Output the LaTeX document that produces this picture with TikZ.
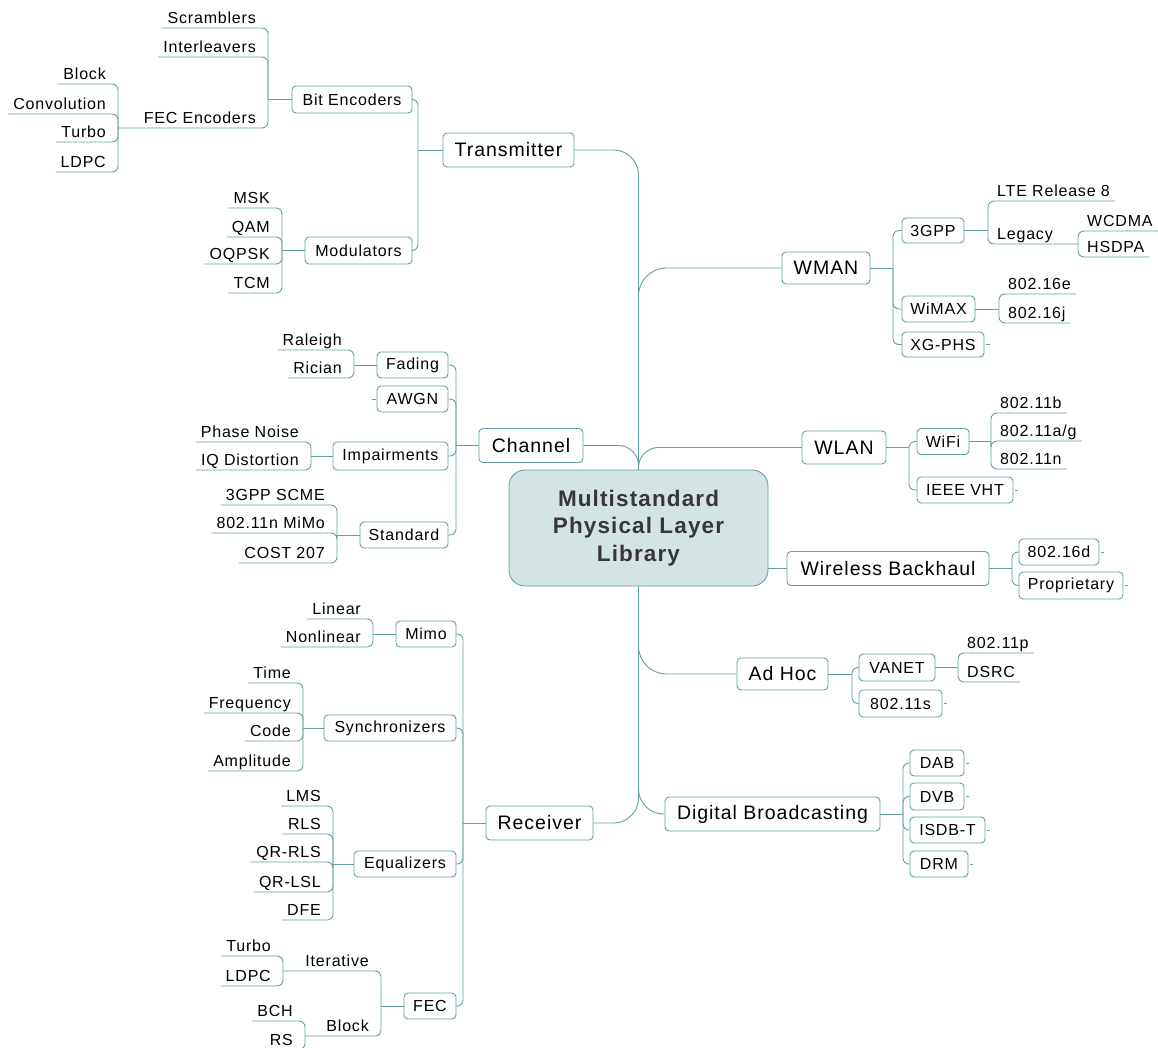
\documentclass[tikz,border=0pt]{standalone}
\usepackage{fontspec}
\setmainfont{Liberation Sans}[LetterSpace=5]
\usetikzlibrary{calc}
\definecolor{lc}{RGB}{100,160,160}
\definecolor{cfill}{RGB}{212,228,228}
\definecolor{tc}{RGB}{0,0,0}
\definecolor{ttl}{RGB}{55,55,55}

\tikzset{
  conn/.style={draw=lc, line width=0.9pt, rounded corners=6pt},
  bx/.style={draw=lc, line width=0.9pt, rounded corners=4pt, inner sep=0pt, text=tc, fill=white},
  mainbox/.style={bx, minimum height=34pt, font=\fontsize{19.5}{22}\selectfont},
  subbox/.style={bx, minimum height=26pt, font=\fontsize{16}{19}\selectfont},
  lleaf/.style={anchor=south east, inner xsep=5pt, inner ysep=1pt, text height=12pt,
                text depth=3pt, text=tc, font=\fontsize{16}{19}\selectfont},
  rleaf/.style={lleaf, anchor=south west},
}
% underlined leaf on the left / right of its bracket
\newcommand\Lleaf[5]{\node[lleaf] (#1) at (#2,#3) {#4};\draw[conn] (#5) |- (#1.south west);}
\newcommand\Rleaf[5]{\node[rleaf] (#1) at (#2,#3) {#4};\draw[conn] (#5) |- (#1.south east);}

\begin{document}
\begin{tikzpicture}[x=1pt,y=-1pt]
\useasboundingbox (0,0) rectangle (1158,1047);
\clip (0,0) rectangle (1158,1047);
\fill[white] (0,0) rectangle (1158,1047);

% ---------- central topic ----------
\node[draw=lc, line width=0.9pt, fill=cfill, rounded corners=16pt, minimum width=259pt,
      minimum height=116pt, align=center, text=ttl, inner sep=0pt,
      font=\fontsize{22.5}{27.5}\selectfont\bfseries] (title) at (638.5,528)
      {Multistandard\\Physical Layer\\Library};

% ---------- main branches ----------
\node[mainbox, minimum width=131pt] (tx)    at (508.5,150)   {Transmitter};
\node[mainbox, minimum width=104pt] (ch)    at (531,445.5)   {Channel};
\node[mainbox, minimum width=107pt] (rx)    at (539.5,823)   {Receiver};
\node[mainbox, minimum width=88pt, minimum height=32pt] (wman) at (826,268) {WMAN};
\node[mainbox, minimum width=84pt, minimum height=33pt] (wlan) at (844,447.5) {WLAN};
\node[mainbox, minimum width=202pt] (wb)    at (888,568.5)   {Wireless Backhaul};
\node[mainbox, minimum width=91pt, minimum height=32pt] (adhoc) at (782.5,674) {Ad Hoc};
\node[mainbox, minimum width=215pt] (db)    at (772.5,814)   {Digital Broadcasting};

\draw[conn, rounded corners=25pt] (tx.east) -| (title.north);
\draw[conn, rounded corners=20pt] (ch.east) -| (title.north);
\draw[conn, rounded corners=28pt] (title.north) |- (wman.west);
\draw[conn, rounded corners=20pt] (title.north) |- (wlan.west);
\draw[conn] (title.east |- wb.west) -- (wb.west);
\draw[conn, rounded corners=28pt] (title.south) |- (adhoc.west);
\draw[conn, rounded corners=25pt] (title.south) |- (db.west);
\draw[conn, rounded corners=25pt] (rx.east) -| (title.south);

% ---------- Transmitter ----------
\node[subbox, minimum width=120pt, minimum height=27pt] (bitenc) at (352,99.5) {Bit Encoders};
\node[subbox, minimum width=107pt, minimum height=27pt] (mod)    at (358.5,250.5) {Modulators};
\coordinate (jtx) at (418,150);
\draw[conn] (tx.west) -- (jtx);
\draw[conn] (jtx) |- (bitenc.east);
\draw[conn] (jtx) |- (mod.east);

\coordinate (jbe) at (268,99.5);
\draw[conn] (bitenc.west) -- (jbe);
\Lleaf{scr}{261}{28}{Scramblers}{jbe}
\Lleaf{intl}{261}{57}{Interleavers}{jbe}
\coordinate (jfe) at (118,128);
\node[lleaf] (fecenc) at (261,128) {FEC Encoders};
\draw[conn] (jbe) |- (fecenc.south west) -- (jfe);
\Lleaf{blkc}{111}{84}{Block}{jfe}
\Lleaf{conv}{111}{114}{Convolution}{jfe}
\Lleaf{turboc}{111}{142}{Turbo}{jfe}
\Lleaf{ldpcc}{111}{172}{LDPC}{jfe}

\coordinate (jmod) at (282,250.5);
\draw[conn] (mod.west) -- (jmod);
\Lleaf{msk}{275}{208}{MSK}{jmod}
\Lleaf{qam}{275}{237}{QAM}{jmod}
\Lleaf{oqpsk}{275}{264}{OQPSK}{jmod}
\Lleaf{tcm}{275}{293}{TCM}{jmod}

% ---------- Channel ----------
\node[subbox, minimum width=71pt]  (fading) at (412.5,365) {Fading};
\node[subbox, minimum width=71pt]  (awgn)   at (412.5,399) {AWGN};
\node[subbox, minimum width=115pt, minimum height=28pt] (imp) at (390.5,456) {Impairments};
\node[subbox, minimum width=88pt]  (std)    at (404,535)   {Standard};
\coordinate (jch) at (456,445.5);
\draw[conn] (ch.west) -- (jch);
\foreach \c in {fading,awgn,imp,std} \draw[conn] (jch) |- (\c.east);
\draw[conn] ([xshift=-1pt]awgn.west) -- ++(-4,0);

\coordinate (jfad) at (354,365);
\draw[conn] (fading.west) -- (jfad);
\Lleaf{ral}{347}{350}{Raleigh}{jfad}
\Lleaf{ric}{347}{378}{Rician}{jfad}

\coordinate (jimp) at (311,456);
\draw[conn] (imp.west) -- (jimp);
\Lleaf{phn}{304}{442}{Phase Noise}{jimp}
\Lleaf{iqd}{304}{470}{IQ Distortion}{jimp}

\coordinate (jstd) at (337,535);
\draw[conn] (std.west) -- (jstd);
\Lleaf{scme}{330}{505}{3GPP SCME}{jstd}
\Lleaf{mimon}{330}{533}{802.11n MiMo}{jstd}
\Lleaf{cost}{330}{563}{COST 207}{jstd}

% ---------- Receiver ----------
\node[subbox, minimum width=60pt]  (mimo) at (426,634)  {Mimo};
\node[subbox, minimum width=132pt] (sync) at (390,728)  {Synchronizers};
\node[subbox, minimum width=102pt] (eq)   at (405,864)  {Equalizers};
\node[subbox, minimum width=52pt]  (fec)  at (430,1006) {FEC};
\coordinate (jrx) at (463,823);
\draw[conn] (rx.west) -- (jrx);
\foreach \c in {mimo,sync,eq,fec} \draw[conn] (jrx) |- (\c.east);

\coordinate (jmimo) at (373,634);
\draw[conn] (mimo.west) -- (jmimo);
\Lleaf{lin}{366}{619}{Linear}{jmimo}
\Lleaf{nlin}{366}{647}{Nonlinear}{jmimo}

\coordinate (jsync) at (303,728);
\draw[conn] (sync.west) -- (jsync);
\Lleaf{tim}{296}{683}{Time}{jsync}
\Lleaf{frq}{296}{713}{Frequency}{jsync}
\Lleaf{cod}{296}{741}{Code}{jsync}
\Lleaf{amp}{296}{771}{Amplitude}{jsync}

\coordinate (jeq) at (333,864);
\draw[conn] (eq.west) -- (jeq);
\Lleaf{lms}{326}{806}{LMS}{jeq}
\Lleaf{rls}{326}{834}{RLS}{jeq}
\Lleaf{qrrls}{326}{862}{QR-RLS}{jeq}
\Lleaf{qrlsl}{326}{892}{QR-LSL}{jeq}
\Lleaf{dfe}{326}{920}{DFE}{jeq}

\coordinate (jfec) at (381,1006);
\draw[conn] (fec.west) -- (jfec);
\coordinate (jit) at (283,971);
\node[lleaf] (iter) at (374,971) {Iterative};
\draw[conn] (jfec) |- (iter.south west) -- (jit);
\coordinate (jblk) at (305,1036);
\node[lleaf] (blkd) at (374,1036) {Block};
\draw[conn] (jfec) |- (blkd.south west) -- (jblk);
\Lleaf{turbod}{276}{956}{Turbo}{jit}
\Lleaf{ldpcd}{276}{986}{LDPC}{jit}
\Lleaf{bch}{298}{1021}{BCH}{jblk}
\Lleaf{rs}{298}{1049.5}{RS}{jblk}

% ---------- WMAN ----------
\node[subbox, minimum width=62pt, minimum height=25pt] (tgpp)  at (933,230.5) {3GPP};
\node[subbox, minimum width=73pt]  (wimax) at (938.5,309) {WiMAX};
\node[subbox, minimum width=82pt, minimum height=25pt] (xgphs) at (943,344.5) {XG-PHS};
\coordinate (jwman) at (893,268);
\draw[conn] (wman.east) -- (jwman);
\foreach \c in {tgpp,wimax,xgphs} \draw[conn] (jwman) |- (\c.west);
\draw[conn] ([xshift=2pt]xgphs.east) -- ++(4,0);

\coordinate (j3g) at (988,230.5);
\draw[conn] (tgpp.east) -- (j3g);
\Rleaf{lte}{992}{201}{LTE Release 8}{j3g}
\coordinate (jleg) at (1078,244);
\node[rleaf] (legacy) at (992,244) {Legacy};
\draw[conn] (j3g) |- (legacy.south east) -- (jleg);
\Rleaf{wcdma}{1082}{231}{WCDMA}{jleg}
\Rleaf{hsdpa}{1082}{257}{HSDPA}{jleg}

\coordinate (jwim) at (999,309);
\draw[conn] (wimax.east) -- (jwim);
\Rleaf{wme}{1003}{294}{802.16e}{jwim}
\Rleaf{wmj}{1003}{323}{802.16j}{jwim}

% ---------- WLAN ----------
\node[subbox, minimum width=52pt] (wifi) at (943,441.5) {WiFi};
\node[subbox, minimum width=96pt] (vht)  at (965,490)   {IEEE VHT};
\coordinate (jwlan) at (909,447.5);
\draw[conn] (wlan.east) -- (jwlan);
\foreach \c in {wifi,vht} \draw[conn] (jwlan) |- (\c.west);
\draw[conn] ([xshift=2pt]vht.east) -- ++(3,0);

\coordinate (jwifi) at (991,441.5);
\draw[conn] (wifi.east) -- (jwifi);
\Rleaf{wfb}{995}{413}{802.11b}{jwifi}
\Rleaf{wfag}{995}{441}{802.11a/g}{jwifi}
\Rleaf{wfn}{995}{469}{802.11n}{jwifi}

% ---------- Wireless Backhaul ----------
\node[subbox, minimum width=80pt]  (bhd)  at (1059,552)   {802.16d};
\node[subbox, minimum width=104pt, minimum height=27pt] (prop) at (1071,585.5) {Proprietary};
\coordinate (jwb) at (1012,568.5);
\draw[conn] (wb.east) -- (jwb);
\foreach \c in {bhd,prop} \draw[conn] (jwb) |- (\c.west);
\draw[conn] ([xshift=2pt]bhd.east) -- ++(3,0);
\draw[conn] ([xshift=2pt]prop.east) -- ++(3,0);

% ---------- Ad Hoc ----------
\node[subbox, minimum width=76pt, minimum height=27pt] (vanet) at (897,667.5) {VANET};
\node[subbox, minimum width=83pt, minimum height=27pt] (mesh)  at (900.5,703.5) {802.11s};
\coordinate (jah) at (852,674);
\draw[conn] (adhoc.east) -- (jah);
\foreach \c in {vanet,mesh} \draw[conn] (jah) |- (\c.west);
\draw[conn] ([xshift=2pt]mesh.east) -- ++(3,0);

\coordinate (jvan) at (958,667.5);
\draw[conn] (vanet.east) -- (jvan);
\Rleaf{wave}{962}{653}{802.11p}{jvan}
\Rleaf{dsrc}{962}{682}{DSRC}{jvan}

% ---------- Digital Broadcasting ----------
\node[subbox, minimum width=54pt] (dab)  at (937,763)   {DAB};
\node[subbox, minimum width=54pt, minimum height=27pt] (dvb)  at (937,796.5) {DVB};
\node[subbox, minimum width=75pt] (isdb) at (947.5,830) {ISDB-T};
\node[subbox, minimum width=58pt] (drm)  at (939,864)   {DRM};
\coordinate (jdb) at (903,814);
\draw[conn] (db.east) -- (jdb);
\foreach \c in {dab,dvb,isdb,drm} {
  \draw[conn] (jdb) |- (\c.west);
  \draw[conn] ([xshift=2pt]\c.east) -- ++(3,0);
}
\end{tikzpicture}
\end{document}
